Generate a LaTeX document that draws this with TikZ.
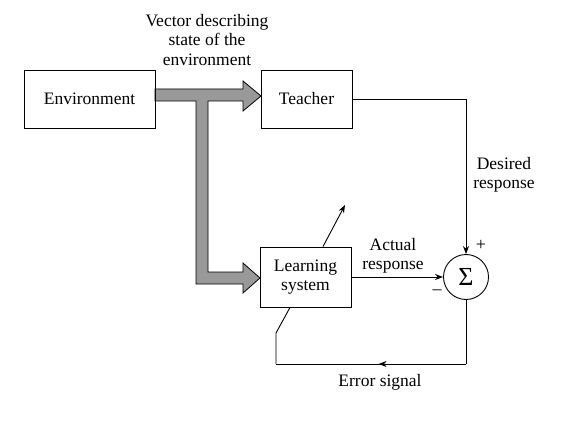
\documentclass[tikz,border=0pt]{standalone}
\usepackage{fontspec}
\setmainfont{Liberation Serif}
\newfontfamily\myserif{Liberation Serif}
\usetikzlibrary{arrows.meta,decorations.markings}
\begin{document}
\begin{tikzpicture}[x=1pt,y=-1pt,
  every node/.style={font=\myserif\fontsize{17.5}{19.5}\selectfont},
  blk/.style={draw,line width=0.9pt,rectangle,inner sep=0pt},
  lbl/.style={inner sep=0pt,align=center},
  wire/.style={line width=0.9pt},
  tip/.style={-{Stealth[length=8pt,width=6pt]}},
  midleft/.style={postaction={decorate},decoration={markings,mark=at position 0.46 with {\arrow{Stealth[length=8pt,width=6pt]}}}}
]
\useasboundingbox (0,0) rectangle (577,430);
% thick gray arrow
\fill[black!40,draw=black,line width=0.8pt]
  (155,89) -- (243,89) -- (243,81) -- (261,96) -- (243,111) -- (243,101)
  -- (208,101) -- (208,272) -- (243,272) -- (243,263) -- (260,278)
  -- (243,293) -- (243,284) -- (196,284) -- (196,101) -- (155,101) -- cycle;
% blocks
\node[blk,minimum width=131pt,minimum height=58pt] (env) at (89.5,99) {Environment};
\node[blk,fill=white,minimum width=91pt,minimum height=58pt] (teacher) at (306.5,99) {Teacher};
\node[blk,fill=white,minimum width=91pt,minimum height=60pt,align=center] (learn) at (305.5,277) {Learning\\system};
\node[draw,circle,line width=0.9pt,minimum size=45pt,inner sep=0pt,font=\myserif\fontsize{26}{26}\selectfont] (sum) at (466,277) {Σ};
% coordinates
\coordinate (adapt) at (345,205);
\coordinate (e1) at (466,364);
\coordinate (e2) at (276,364);
\coordinate (e3) at (276,333);
% connectors
\draw[wire,tip] (teacher.east) -| (sum.north);
\draw[wire,tip] (learn.east) -- (sum.west);
\draw[wire] (sum.south) -- (e1);
\draw[wire,midleft] (e1) -- (e2);
\draw[wire] (e2) -- (e3) -- ([xshift=-15.5pt]learn.south);
\draw[wire,tip] ([xshift=17.5pt]learn.north) -- (adapt);
% labels
\node[lbl] (vec) at (207,40) {Vector describing\\state of the\\environment};
\node[lbl] (des) at (504,175) {Desired\\response};
\node[lbl] (act) at (393,256) {Actual\\response};
\node[lbl] (err) at (380,382) {Error signal};
\node[lbl,font=\myserif\fontsize{18}{18}\selectfont] (plus) at (481,245) {+};
\node[lbl,font=\myserif\fontsize{18}{18}\selectfont] (minus) at (437,292) {\textendash};
\end{tikzpicture}
\end{document}
